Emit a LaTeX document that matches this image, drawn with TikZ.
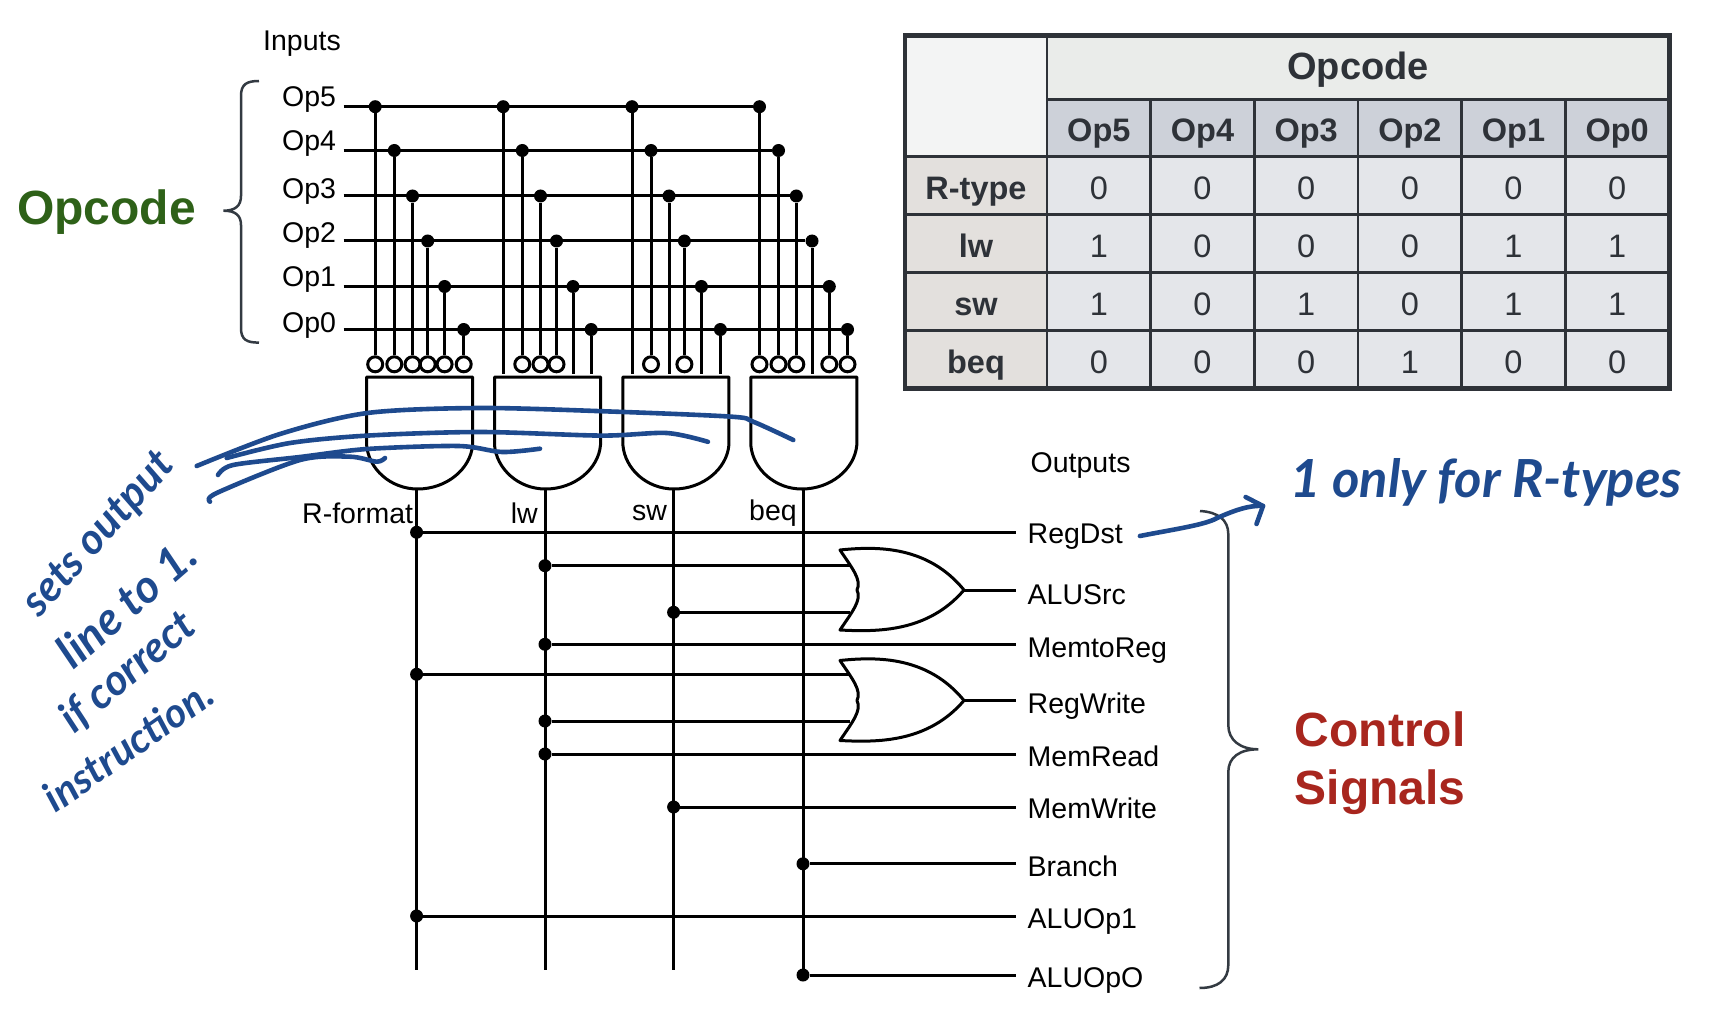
\documentclass[tikz,border=0pt]{standalone}
\usepackage{fontspec}
\setmainfont{Liberation Sans}
\newfontfamily\handfont{Lato}
\usetikzlibrary{positioning}
\definecolor{ink}{HTML}{1E4A8E}
\definecolor{rim}{HTML}{2E3238}
\definecolor{curlygray}{HTML}{333A42}
\definecolor{opgreen}{HTML}{2E6118}
\definecolor{ctlred}{HTML}{A8261E}
\definecolor{cornercell}{HTML}{F3F4F4}
\definecolor{topcell}{HTML}{EAECEA}
\definecolor{headcell}{HTML}{CDD1D9}
\definecolor{sidecell}{HTML}{E3E0DD}
\definecolor{datacell}{HTML}{E4E6EA}
\tikzset{
  wire/.style={line width=3pt},
  dot/.style={circle,fill=black,inner sep=0pt,minimum size=13pt},
  bubble/.style={circle,draw,fill=white,line width=3pt,inner sep=0pt,minimum size=15pt},
  siglabel/.style={font=\fontsize{28.5}{32}\selectfont,anchor=west,inner sep=0pt,inner xsep=12pt,text height=20pt,text depth=6pt},
  oplabel/.style={font=\fontsize{28.5}{32}\selectfont,anchor=west,inner sep=0pt},
  curly/.style={color=curlygray,line width=2.5pt},
  handline/.style={color=ink,line width=4.6pt,line cap=round,line join=round},
  handtext/.style={color=ink,font=\handfont\bfseries\itshape},
  bigword/.style={font=\fontsize{48}{58}\selectfont\bfseries,anchor=west,align=left,inner sep=0pt},
  tcell/.style={draw=rim,line width=2.5pt,inner sep=0pt,text=rim,text depth=0pt,text height=28pt,
    font=\fontsize{32.5}{36}\selectfont},
  andgate/.pic={
    \draw[wire,line join=round] (0,0) -- (0,68) .. controls (2,92) and (24,112) .. (51,112)
      .. controls (80,112) and (104,92) .. (106,68) -- (106,0) -- cycle;
    \coordinate (-out) at (51,112);
  },
  orgate/.pic={
    \draw[wire,line join=round,fill=white] (0,-40) .. controls (38,-44) and (88,-44) .. (124,0)
      .. controls (88,42) and (38,42) .. (0,40) .. controls (12,22) and (22,10) .. (17,0)
      .. controls (22,-10) and (12,-22) .. (0,-40) -- cycle;
    \coordinate (-a) at (10,-24);
    \coordinate (-b) at (10,22);
    \coordinate (-out) at (124,0);
  }
}
\begin{document}
\begin{tikzpicture}[x=1pt,y=-1pt]
  \useasboundingbox (0,0) rectangle (1709,1019);

  % opcode table
  \node[tcell,fill=cornercell,minimum width=142pt,minimum height=121.4pt] (corner) at (976,96) {};
  \node[tcell,fill=topcell,minimum width=622pt,minimum height=64pt,text height=25pt,
    font=\fontsize{38}{42}\selectfont\bfseries] (tophead) at (1358,67.3) {Opcode};
  \foreach \cc/\lbl in {1/Op5,2/Op4,3/Op3,4/Op2,5/Op1,6/Op0} {
    \node[tcell,fill=headcell,minimum width=103.67pt,minimum height=57.4pt,font=\fontsize{32.5}{36}\selectfont\bfseries]
      (h\cc) at ({1047+(\cc-0.5)*103.67},128) {\lbl};
  }
  \foreach \rr/\yy/\lbl/\vals in {1/185.7/R-type/{0,0,0,0,0,0},2/243.7/lw/{1,0,0,0,1,1},
    3/301.7/sw/{1,0,1,0,1,1},4/359.5/beq/{0,0,0,1,0,0}} {
    \node[tcell,fill=sidecell,minimum width=142pt,minimum height=58pt,font=\fontsize{32.5}{36}\selectfont\bfseries]
      (s\rr) at (976,\yy) {\lbl};
    \foreach \val [count=\cc] in \vals {
      \node[tcell,fill=datacell,minimum width=103.67pt,minimum height=58pt] (c\rr\cc)
        at ({1047+(\cc-0.5)*103.67},\yy) {\val};
    }
  }
  \draw[rim,line width=4.6pt] (905,35.3) rectangle (1669.5,388.3);

  % inputs
  \node[oplabel] (inputs) at (263,43.5) {Inputs};
  \foreach \nn/\yy/\ly in {5/106.7/99.4,4/150.5/143.5,3/196/191.7,2/241/235.4,1/286.5/279.5,0/329.5/326} {
    \node[oplabel] (op\nn) at (282,\ly) {Op\nn};
    \coordinate (l\nn) at (343.6,\yy);
  }

  % gates
  \pic (and1) at (366.6,377) {andgate};
  \pic (and2) at (494.5,377) {andgate};
  \pic (and3) at (622.9,377) {andgate};
  \pic (and4) at (750.8,377) {andgate};

  % input nets, bit 0 gets a bubble
  \foreach \nn/\yy/\xa/\ba/\xb/\bb/\xc/\bc/\xd/\bd in {
    5/106.7/375.2/0/503.2/1/632/1/759.5/0,
    4/150.5/394.3/0/522.3/0/651/0/778.5/0,
    3/196/412.5/0/540.5/0/669/1/796.3/0,
    2/241/427.7/0/556.5/0/684.4/0/812/1,
    1/286.5/444.6/0/573/1/701.4/1/829.3/0,
    0/329.5/463.7/0/591.2/1/720.4/1/847.5/0} {
    \foreach \gg/\xx/\bit in {1/\xa/\ba,2/\xb/\bb,3/\xc/\bc,4/\xd/\bd} {
      \node[dot] (d\gg\nn) at (\xx,\yy) {};
      \ifnum\bit=0
        \node[bubble] (b\gg\nn) at (\xx,364.3) {};
      \else
        \coordinate (b\gg\nn) at (\xx,373.6);
      \fi
      \draw[wire] (d\gg\nn) -- (b\gg\nn);
    }
    \draw[wire] (l\nn) -- (d4\nn);
  }

  \node[oplabel] (rformat) at (302,513) {R-format};
  \node[oplabel] (lwlab) at (510.7,513) {lw};
  \node[oplabel] (swlab) at (632,513) {sw};
  \node[oplabel] (beqlab) at (749,513) {beq};

  % outputs
  \node[oplabel] (outputs) at (1030.5,466) {Outputs};
  \node[siglabel] (RegDst) at (1015.5,536) {RegDst};
  \node[siglabel] (ALUSrc) at (1015.5,597.7) {ALUSrc};
  \node[siglabel] (MemtoReg) at (1015.5,650) {MemtoReg};
  \node[siglabel] (RegWrite) at (1015.5,706.6) {RegWrite};
  \node[siglabel] (MemRead) at (1015.5,759) {MemRead};
  \node[siglabel] (MemWrite) at (1015.5,811) {MemWrite};
  \node[siglabel] (Branch) at (1015.5,869) {Branch};
  \node[siglabel] (ALUOpA) at (1015.5,921) {ALUOp1};
  \node[siglabel] (ALUOpB) at (1015.5,980) {ALUOpO};

  \coordinate (bus1) at (416.6,969.5);
  \coordinate (bus2) at (545,969.5);
  \coordinate (bus3) at (673.6,969.5);
  \coordinate (bus4) at (803,975);
  \foreach \gg in {1,2,3,4} {
    \draw[wire] (bus\gg |- and\gg-out) -- (bus\gg);
  }

  \pic (or1) at (840,590) {orgate};
  \pic (or2) at (840,700.5) {orgate};
  \draw[wire] (or1-out) -- (or1-out -| ALUSrc.west);
  \draw[wire] (or2-out) -- (or2-out -| RegWrite.west);

  \foreach \xx/\yy/\sig in {416.6/532.3/RegDst,545/644.3/MemtoReg,545/754/MemRead,673.6/807/MemWrite,
    803/863.8/Branch,416.6/916/ALUOpA,803/975/ALUOpB} {
    \node[dot] (w\sig) at (\xx,\yy) {};
    \draw[wire] (w\sig) -- (w\sig -| \sig.west);
  }
  \foreach \xx/\yy/\nm/\into in {545/565.7/p/or1-a,673.6/612.3/q/or1-b,416.6/674.3/r/or2-a,545/721/s/or2-b} {
    \node[dot] (w\nm) at (\xx,\yy) {};
    \draw[wire] (w\nm) -- (w\nm -| \into);
  }

  % side labels and braces
  \node[bigword,opgreen] (opword) at (17,212.5) {Opcode};
  \node[bigword,ctlred] (ctlword) at (1294.5,763.5) {Control\\Signals};
  \draw[curly] (259,81) .. controls (247,81) and (241,84) .. (241,96) -- (241,196)
    .. controls (241,206) and (235,210.7) .. (223.5,210.7) .. controls (235,210.7) and (241,215) .. (241,225)
    -- (241,328) .. controls (241,340) and (247,342.6) .. (259,342.6);
  \draw[curly] (1200,511) .. controls (1218,512) and (1228.3,520) .. (1228.3,534) -- (1228.3,725)
    .. controls (1228.3,740) and (1240,749.3) .. (1258.3,749.3) .. controls (1240,749.3) and (1228.3,757) .. (1228.3,772)
    -- (1228.3,965) .. controls (1228.3,980) and (1218,988) .. (1199.5,988);

  % handwriting
  \draw[handline] plot[smooth] coordinates {(196.7,466) (280,434) (367.4,413) (480,408) (610,411.5) (731.7,416.7) (753.4,421.8) (793.3,440)};
  \draw[handline] plot[smooth] coordinates {(226.7,458) (290,443) (367.4,435.6) (480,432) (601.6,435.6) (666.7,433) (707.9,441.8)};
  \draw[handline] plot[smooth] coordinates {(218,475) (233,465) (300,457) (367,449) (458.5,446) (502,452) (540,448.7)};
  \draw[handline] plot[smooth] coordinates {(210,501.7) (216.7,493) (300,460) (350,456.7) (376.7,461.7) (385,458)};

  \node[handtext,font=\fontsize{43}{46}\handfont\bfseries\itshape,rotate=48] (hand1) at (100,535) {sets output};
  \node[handtext,font=\fontsize{46}{50}\handfont\bfseries\itshape,rotate=41] (hand2) at (126,603) {line to 1.};
  \node[handtext,font=\fontsize{43}{46}\handfont\bfseries\itshape,rotate=40] (hand3) at (128,672) {if correct};
  \node[handtext,font=\fontsize{41}{46}\handfont\bfseries\itshape,rotate=35] (hand4) at (128,745) {instruction.};
  \node[handtext,font=\fontsize{52.5}{56}\handfont\bfseries\itshape,anchor=base west,inner sep=0pt] (only) at (1290,497) {1 only for R-types};

  \coordinate (arrowtip) at (1263,506);
  \coordinate (barba) at (1245.6,497);
  \coordinate (barbb) at (1256.5,524);
  \draw[handline] ([xshift=5pt]RegDst.east) .. controls (1170,530) and (1205,525) .. (1216.5,518.3)
    .. controls (1235,510) and (1250,505) .. (arrowtip);
  \draw[handline] (barba) -- (arrowtip) -- (barbb);
\end{tikzpicture}
\end{document}
